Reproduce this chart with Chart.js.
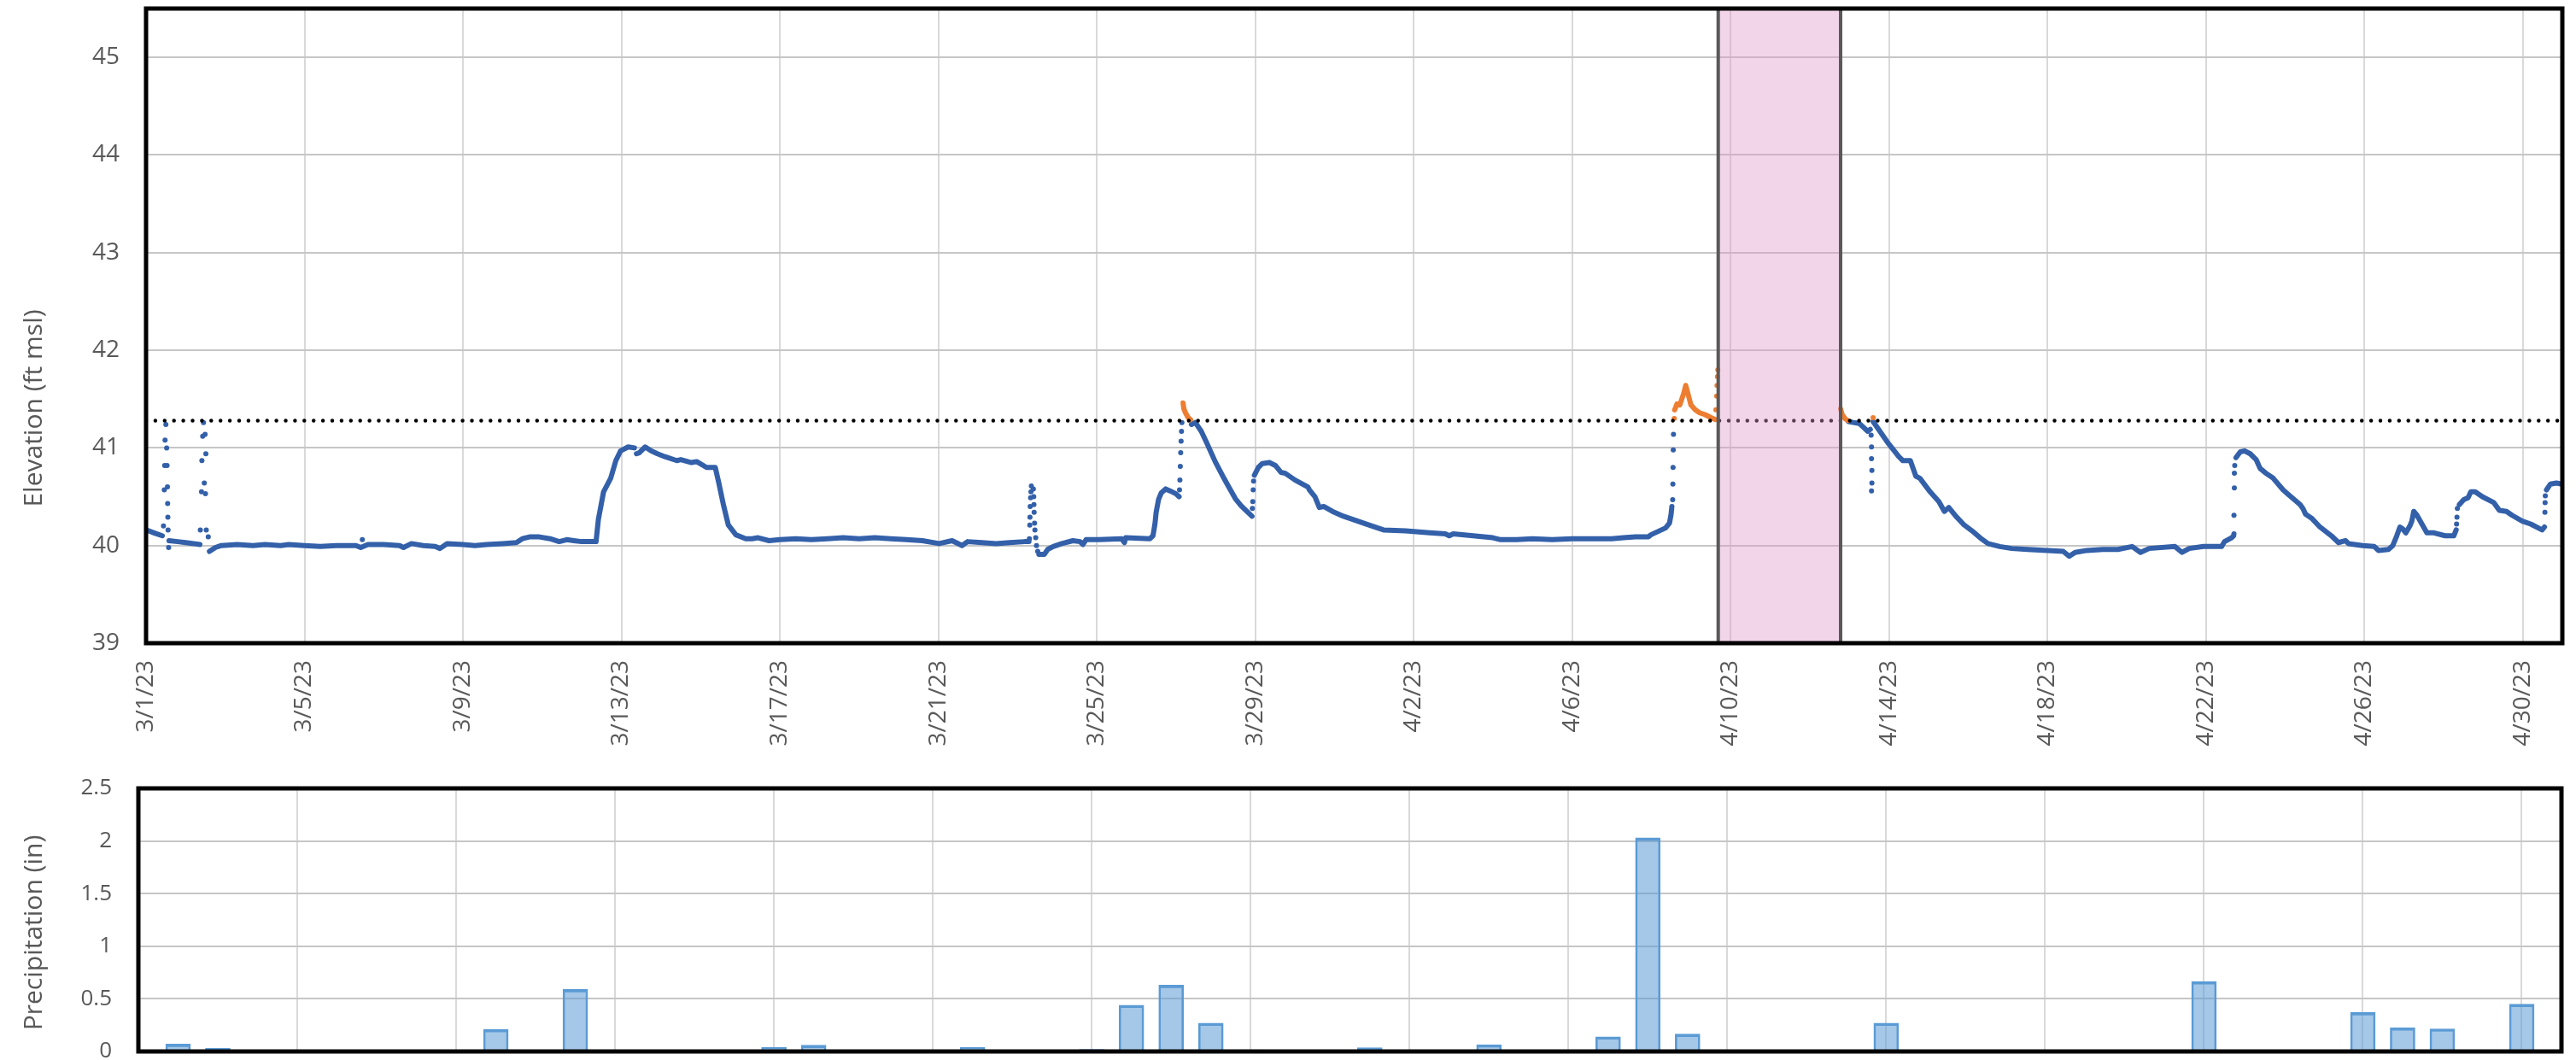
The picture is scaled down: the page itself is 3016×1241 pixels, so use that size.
<!DOCTYPE html>
<html>
<head>
<meta charset="utf-8">
<title>Water level and precipitation, March–April 2023</title>
<script src="https://cdn.jsdelivr.net/npm/chart.js@4.4.1/dist/chart.umd.min.js"></script>
<style>
  html, body { margin: 0; padding: 0; background: #fff; overflow: hidden; }
  #wrap { position: relative; width: 3016px; height: 1241px; }
  canvas { position: absolute; left: 0; }
  #elev { top: 0; }
  #precip { top: 900px; }
</style>
</head>
<body>
<div id="wrap">
  <canvas id="elev" width="3016" height="900"></canvas>
  <canvas id="precip" width="3016" height="341"></canvas>
</div>
<script>
// ---- x axis: days counted from 3/1/23 00:00 ----
const tickDates = ['3/1/23', '3/5/23', '3/9/23', '3/13/23', '3/17/23', '3/21/23', '3/25/23', '3/29/23',
                   '4/2/23', '4/6/23', '4/10/23', '4/14/23', '4/18/23', '4/22/23', '4/26/23', '4/30/23'];
const periodDays = 61;            // 3/1 through the end of 4/30

// ---- elevation axis ----
const elevTicks = [39, 40, 41, 42, 43, 44, 45];
const elevMin = 39, elevMax = 45.5;
const thresholdElevation = 41.28; // dotted reference level (ft msl)
const outageStart = 39.69, outageEnd = 42.78;  // shaded interval, in days from 3/1

// ---- water level readings [day, ft msl], continuous stretches ----
const levelRun1 = [[0, 40.16], [0.2, 40.13], [0.41, 40.10]];
const levelRun2 = [[0.58, 40.05], [0.8, 40.04], [1.0, 40.03], [1.2, 40.02], [1.36, 40.01]];
const levelRun3 = [[1.6, 39.94], [1.75, 39.98], [1.9, 40.0], [2.3, 40.01], [2.7, 40.0], [3.0, 40.01], [3.4, 40.0],
  [3.6, 40.01], [4.0, 40.0], [4.4, 39.99], [4.8, 40.0], [5.3, 40.0], [5.42, 39.98], [5.6, 40.01], [6.0, 40.01],
  [6.4, 40.0], [6.5, 39.98], [6.7, 40.02], [7.0, 40.0], [7.3, 39.99], [7.42, 39.97], [7.6, 40.02], [8.0, 40.01],
  [8.3, 40.0], [8.6, 40.01], [9.0, 40.02], [9.35, 40.03], [9.5, 40.07], [9.7, 40.09], [9.9, 40.09], [10.2, 40.07],
  [10.43, 40.04], [10.62, 40.06], [10.8, 40.05], [11.0, 40.04], [11.36, 40.04], [11.42, 40.27], [11.55, 40.55],
  [11.73, 40.69], [11.86, 40.87], [11.98, 40.97], [12.17, 41.01], [12.33, 41.0]];
const levelRun4 = [[12.38, 40.94], [12.45, 40.95], [12.6, 41.01], [12.75, 40.97], [12.91, 40.94], [13.1, 40.91],
  [13.4, 40.87], [13.5, 40.88], [13.77, 40.85], [13.9, 40.86], [14.15, 40.8], [14.37, 40.8], [14.46, 40.64],
  [14.58, 40.41], [14.7, 40.21], [14.89, 40.11], [15.14, 40.07], [15.3, 40.07], [15.45, 40.08], [15.73, 40.05],
  [16.0, 40.06], [16.4, 40.07], [16.8, 40.06], [17.2, 40.07], [17.6, 40.08], [18.0, 40.07], [18.4, 40.08],
  [18.8, 40.07], [19.2, 40.06], [19.6, 40.05], [20.02, 40.02], [20.35, 40.05], [20.6, 40.0], [20.74, 40.04],
  [21.1, 40.03], [21.46, 40.02], [21.8, 40.03], [22.18, 40.04], [22.29, 40.04]];
const levelRun5 = [[22.54, 39.91], [22.68, 39.91], [22.76, 39.96], [22.9, 39.99], [23.12, 40.02], [23.4, 40.05],
  [23.58, 40.04], [23.65, 40.01], [23.73, 40.06], [24.05, 40.06], [24.63, 40.07], [24.7, 40.03], [24.73, 40.08],
  [25.34, 40.07], [25.42, 40.1], [25.47, 40.22], [25.5, 40.34], [25.56, 40.47], [25.63, 40.54], [25.74, 40.58],
  [25.85, 40.56], [26.0, 40.53], [26.08, 40.5]];
const levelRun6 = [[26.39, 41.24], [26.49, 41.26], [26.64, 41.17], [26.78, 41.05], [26.99, 40.86], [27.21, 40.69],
  [27.32, 40.61], [27.5, 40.48], [27.64, 40.41], [27.79, 40.35], [27.92, 40.30]];
const levelRun7 = [[27.98, 40.72], [28.08, 40.8], [28.18, 40.84], [28.36, 40.85], [28.51, 40.82], [28.65, 40.75],
  [28.76, 40.74], [29.01, 40.67], [29.33, 40.6], [29.37, 40.57], [29.51, 40.5], [29.62, 40.39], [29.73, 40.4],
  [29.95, 40.35], [30.23, 40.3], [30.59, 40.25], [30.95, 40.2], [31.24, 40.16], [31.8, 40.15], [32.4, 40.13],
  [32.8, 40.12], [32.9, 40.1], [33.0, 40.12], [33.5, 40.1], [34.0, 40.08], [34.2, 40.06], [34.6, 40.06],
  [35.0, 40.07], [35.5, 40.06], [36.0, 40.07], [36.5, 40.07], [37.0, 40.07], [37.3, 40.08], [37.6, 40.09],
  [37.93, 40.09], [37.99, 40.11], [38.36, 40.18], [38.46, 40.23], [38.5, 40.32], [38.52, 40.40]];
const levelRun8 = [[42.98, 41.27], [43.1, 41.26], [43.25, 41.25], [43.36, 41.21], [43.46, 41.17], [43.53, 41.19]];
const levelRun9 = [[43.6, 41.27], [43.96, 41.06], [44.25, 40.91], [44.35, 40.87], [44.54, 40.87], [44.68, 40.71],
  [44.78, 40.69], [45.04, 40.55], [45.26, 40.45], [45.4, 40.35], [45.51, 40.39], [45.69, 40.30], [45.9, 40.21],
  [46.1, 40.15], [46.3, 40.08], [46.5, 40.02], [46.8, 39.99], [47.1, 39.97], [47.5, 39.96], [48.0, 39.95],
  [48.4, 39.94], [48.55, 39.89], [48.7, 39.93], [49.0, 39.95], [49.4, 39.96], [49.78, 39.96], [50.14, 39.99],
  [50.35, 39.93], [50.57, 39.97], [51.22, 39.99], [51.4, 39.93], [51.58, 39.97], [51.94, 39.99], [52.4, 39.99],
  [52.47, 40.04], [52.65, 40.08], [52.7, 40.10]];
const levelRun10 = [[52.76, 40.9], [52.87, 40.96], [52.98, 40.97], [53.12, 40.94], [53.27, 40.88], [53.37, 40.79],
  [53.52, 40.74], [53.7, 40.69], [53.95, 40.57], [54.09, 40.52], [54.38, 40.42], [54.45, 40.38], [54.52, 40.32],
  [54.67, 40.28], [54.88, 40.19], [55.17, 40.1], [55.35, 40.03], [55.53, 40.05], [55.6, 40.02], [55.96, 40.0],
  [56.25, 39.99], [56.36, 39.95], [56.61, 39.96], [56.72, 40.0], [56.82, 40.1], [56.9, 40.19], [56.97, 40.17],
  [57.05, 40.13], [57.15, 40.2], [57.2, 40.25], [57.25, 40.35], [57.33, 40.31], [57.58, 40.13], [57.76, 40.13],
  [58.04, 40.1], [58.26, 40.1], [58.32, 40.16]];
const levelRun11 = [[58.4, 40.42], [58.51, 40.47], [58.62, 40.49], [58.69, 40.55], [58.8, 40.55], [58.98, 40.5],
  [59.27, 40.44], [59.41, 40.36], [59.59, 40.35], [59.73, 40.31], [59.99, 40.25], [60.2, 40.22], [60.49, 40.16],
  [60.55, 40.19]];
const levelRun12 = [[60.6, 40.57], [60.7, 40.63], [60.85, 40.64], [60.99, 40.63]];

// isolated readings during rapid changes [day, ft msl]
const levelDots = [
  [0.44, 40.20], [0.46, 40.57], [0.47, 40.82], [0.48, 41.08], [0.50, 41.24], [0.52, 41.00], [0.53, 40.82],
  [0.54, 40.60], [0.545, 40.43], [0.55, 40.29], [0.555, 40.16], [0.57, 39.98],
  [1.37, 40.16], [1.40, 40.55], [1.41, 40.87], [1.43, 41.12], [1.45, 41.26], [1.49, 41.14], [1.51, 40.94],
  [1.47, 40.64], [1.50, 40.53], [1.52, 40.16], [1.57, 40.09], [5.46, 40.06],
  [22.30, 40.07], [22.31, 40.21], [22.315, 40.29], [22.32, 40.40], [22.33, 40.49], [22.34, 40.55], [22.35, 40.61],
  [22.40, 40.58], [22.41, 40.50], [22.415, 40.42], [22.42, 40.34], [22.43, 40.23], [22.44, 40.16], [22.46, 40.08],
  [22.48, 40.00], [22.51, 39.94],
  [26.09, 40.57], [26.10, 40.67], [26.11, 40.81], [26.12, 40.95], [26.13, 41.07], [26.14, 41.17], [26.15, 41.26],
  [27.93, 40.38], [27.94, 40.45], [27.95, 40.57], [27.96, 40.66],
  [38.54, 40.47], [38.545, 40.63], [38.55, 40.80], [38.555, 40.98], [38.56, 41.14],
  [43.55, 41.13], [43.56, 41.01], [43.56, 40.89], [43.57, 40.77], [43.57, 40.64], [43.56, 40.56],
  [52.71, 40.12], [52.71, 40.31], [52.72, 40.59], [52.72, 40.74], [52.73, 40.82],
  [58.33, 40.22], [58.34, 40.29], [58.35, 40.38],
  [60.56, 40.34], [60.565, 40.44], [60.57, 40.51]];

// readings above the reference level [day, ft msl]
const highRun1 = [[26.18, 41.46], [26.2, 41.40], [26.24, 41.36], [26.31, 41.31], [26.37, 41.29]];
const highRun2 = [[38.59, 41.39], [38.65, 41.45], [38.72, 41.44], [38.82, 41.56], [38.87, 41.64], [38.93, 41.55],
  [39.0, 41.44], [39.11, 41.39], [39.22, 41.36], [39.36, 41.34], [39.51, 41.31], [39.62, 41.29]];
const highRun3 = [[42.78, 41.40], [42.82, 41.34], [42.89, 41.30], [42.96, 41.28]];
const highDots = [[38.58, 41.30], [39.63, 41.39], [39.65, 41.53], [39.66, 41.64], [39.67, 41.73], [39.68, 41.80],
  [43.6, 41.31]];

// ---- daily precipitation ----
const precipDates = ['3/2', '3/3', '3/4', '3/10', '3/12', '3/13', '3/17', '3/18', '3/22', '3/25', '3/26', '3/27',
  '3/28', '3/29', '4/1', '4/3', '4/4', '4/7', '4/8', '4/9', '4/14', '4/22', '4/26', '4/27', '4/28', '4/30'];
const precipInches = [0.07, 0.03, 0.005, 0.21, 0.59, 0.005, 0.04, 0.06, 0.04, 0.02, 0.44, 0.63,
  0.27, 0.015, 0.035, 0.005, 0.065, 0.14, 2.03, 0.165, 0.27, 0.665, 0.37, 0.225, 0.215, 0.45];
const precipTicks = [0, 0.5, 1, 1.5, 2, 2.5];

// ---------------------------------------------------------------
const BLUE = '#3360A9';
const ORANGE = '#ED7D31';
const TEXT = '#595959';

Chart.defaults.font.family = '"Open Sans", "Noto Sans", sans-serif';
Chart.defaults.color = TEXT;

function dayIndex(label) {
  const [m, d] = label.split('/').map(Number);
  return (m === 3 ? 0 : 31) + d - 1;
}
const tickDays = tickDates.map(dayIndex);
const toXY = pts => pts.map(([x, y]) => ({ x, y }));

const lineSet = (pts, color) => ({
  data: toXY(pts), showLine: true, borderColor: color, borderWidth: 6,
  borderCapStyle: 'round', borderJoinStyle: 'round', pointRadius: 0, tension: 0, order: 2
});
const dotSet = (pts, color) => ({
  data: toXY(pts), showLine: false, pointRadius: 3, pointBackgroundColor: color,
  pointBorderWidth: 0, order: 2
});

const blueRuns = [levelRun1, levelRun2, levelRun3, levelRun4, levelRun5, levelRun6, levelRun7,
  levelRun8, levelRun9, levelRun10, levelRun11, levelRun12];
const orangeRuns = [highRun1, highRun2, highRun3];

const elevDatasets = [
  { // reference level
    data: [{ x: 0, y: thresholdElevation }, { x: periodDays, y: thresholdElevation }],
    showLine: true, borderColor: '#000', borderWidth: 4.5, borderDash: [0, 10.9],
    borderCapStyle: 'round', pointRadius: 0, order: 0
  },
  ...orangeRuns.map(r => Object.assign(lineSet(r, ORANGE), { order: 1 })),
  Object.assign(dotSet(highDots, ORANGE), { order: 1 }),
  ...blueRuns.map(r => lineSet(r, BLUE)),
  dotSet(levelDots, BLUE)
];

// axis sizes fixed so the plotting area sits where the layout needs it
const fixWidth = w => s => { s.width = w; s.paddingTop = 0; s.paddingBottom = 0; };
const fixHeight = h => s => { s.height = h; s.paddingLeft = 0; s.paddingRight = 0; };

// thick black frame around the plotting area
const framePlugin = {
  id: 'frame',
  afterDraw(chart) {
    const { ctx, chartArea: a } = chart;
    ctx.save();
    ctx.strokeStyle = '#000';
    ctx.lineWidth = 5;
    ctx.strokeRect(a.left, a.top, a.right - a.left, a.bottom - a.top);
    ctx.restore();
  }
};

// rotated axis title placed at a given point
const axisTitle = (id, text, x, y) => ({
  id,
  afterDraw(chart) {
    const ctx = chart.ctx;
    ctx.save();
    ctx.translate(x, y);
    ctx.rotate(-Math.PI / 2);
    ctx.font = '30px "Open Sans", "Noto Sans", sans-serif';
    ctx.fillStyle = TEXT;
    ctx.textAlign = 'center';
    ctx.textBaseline = 'middle';
    ctx.fillText(text, 0, 0);
    ctx.restore();
  }
});

// shaded interval with grey edges
const outagePlugin = {
  id: 'outage',
  afterDatasetsDraw(chart) {
    const { ctx, chartArea: a, scales: { x } } = chart;
    const x1 = x.getPixelForValue(outageStart);
    const x2 = x.getPixelForValue(outageEnd);
    ctx.save();
    ctx.fillStyle = 'rgba(222, 150, 200, 0.40)';
    ctx.fillRect(x1, a.top, x2 - x1, a.bottom - a.top);
    ctx.strokeStyle = '#595959';
    ctx.lineWidth = 4;
    ctx.beginPath();
    ctx.moveTo(x1, a.top); ctx.lineTo(x1, a.bottom);
    ctx.moveTo(x2, a.top); ctx.lineTo(x2, a.bottom);
    ctx.stroke();
    ctx.restore();
  }
};

new Chart(document.getElementById('elev'), {
  type: 'scatter',
  data: { datasets: elevDatasets },
  options: {
    responsive: false, animation: false, events: [],
    devicePixelRatio: 1,
    layout: { padding: { top: 10, right: 16, left: 0, bottom: 0 } },
    plugins: { legend: { display: false }, tooltip: { enabled: false } },
    scales: {
      x: {
        type: 'linear', min: 0, max: periodDays,
        afterBuildTicks: s => { s.ticks = tickDays.map(v => ({ value: v })); },
        afterFit: fixHeight(147),
        grid: { color: '#D9D9D9', lineWidth: 2, drawTicks: false },
        border: { display: false },
        ticks: {
          autoSkip: false, minRotation: 90, maxRotation: 90, padding: 20,
          font: { size: 28 }, color: TEXT,
          callback: v => tickDates[tickDays.indexOf(v)]
        }
      },
      y: {
        type: 'linear', min: elevMin, max: elevMax,
        afterBuildTicks: s => { s.ticks = elevTicks.map(v => ({ value: v })); },
        afterFit: fixWidth(171),
        grid: { color: '#C6C6C6', lineWidth: 2, drawTicks: false },
        border: { display: false },
        ticks: { padding: 31, font: { size: 28 }, color: TEXT, callback: v => String(v) }
      }
    }
  },
  plugins: [outagePlugin, framePlugin, axisTitle('elevTitle', 'Elevation (ft msl)', 40, 478)]
});

new Chart(document.getElementById('precip'), {
  type: 'bar',
  data: {
    datasets: [{
      data: precipDates.map((d, i) => ({ x: dayIndex(d), y: precipInches[i] })),
      backgroundColor: 'rgba(91, 155, 213, 0.55)',
      borderColor: '#5B9BD5',
      borderWidth: { top: 3, left: 2, right: 2, bottom: 0 },
      borderSkipped: false,
      barThickness: 29
    }]
  },
  options: {
    responsive: false, animation: false, events: [],
    devicePixelRatio: 1,
    layout: { padding: { top: 23, right: 17, left: 0, bottom: 0 } },
    plugins: { legend: { display: false }, tooltip: { enabled: false } },
    scales: {
      x: {
        type: 'linear', min: 0, max: periodDays, offset: false,
        afterBuildTicks: s => { s.ticks = tickDays.map(v => ({ value: v })); },
        afterFit: fixHeight(10),
        grid: { color: '#D9D9D9', lineWidth: 2, drawTicks: false, offset: false },
        border: { display: false },
        ticks: { display: false }
      },
      y: {
        type: 'linear', min: 0, max: 2.5,
        afterBuildTicks: s => { s.ticks = precipTicks.map(v => ({ value: v })); },
        afterFit: fixWidth(162),
        grid: { color: '#C6C6C6', lineWidth: 2, drawTicks: false },
        border: { display: false },
        ticks: { padding: 31, font: { size: 26 }, color: TEXT, callback: v => String(v) }
      }
    }
  },
  plugins: [framePlugin, axisTitle('precipTitle', 'Precipitation (in)', 40, 192)]
});
</script>
</body>
</html>
